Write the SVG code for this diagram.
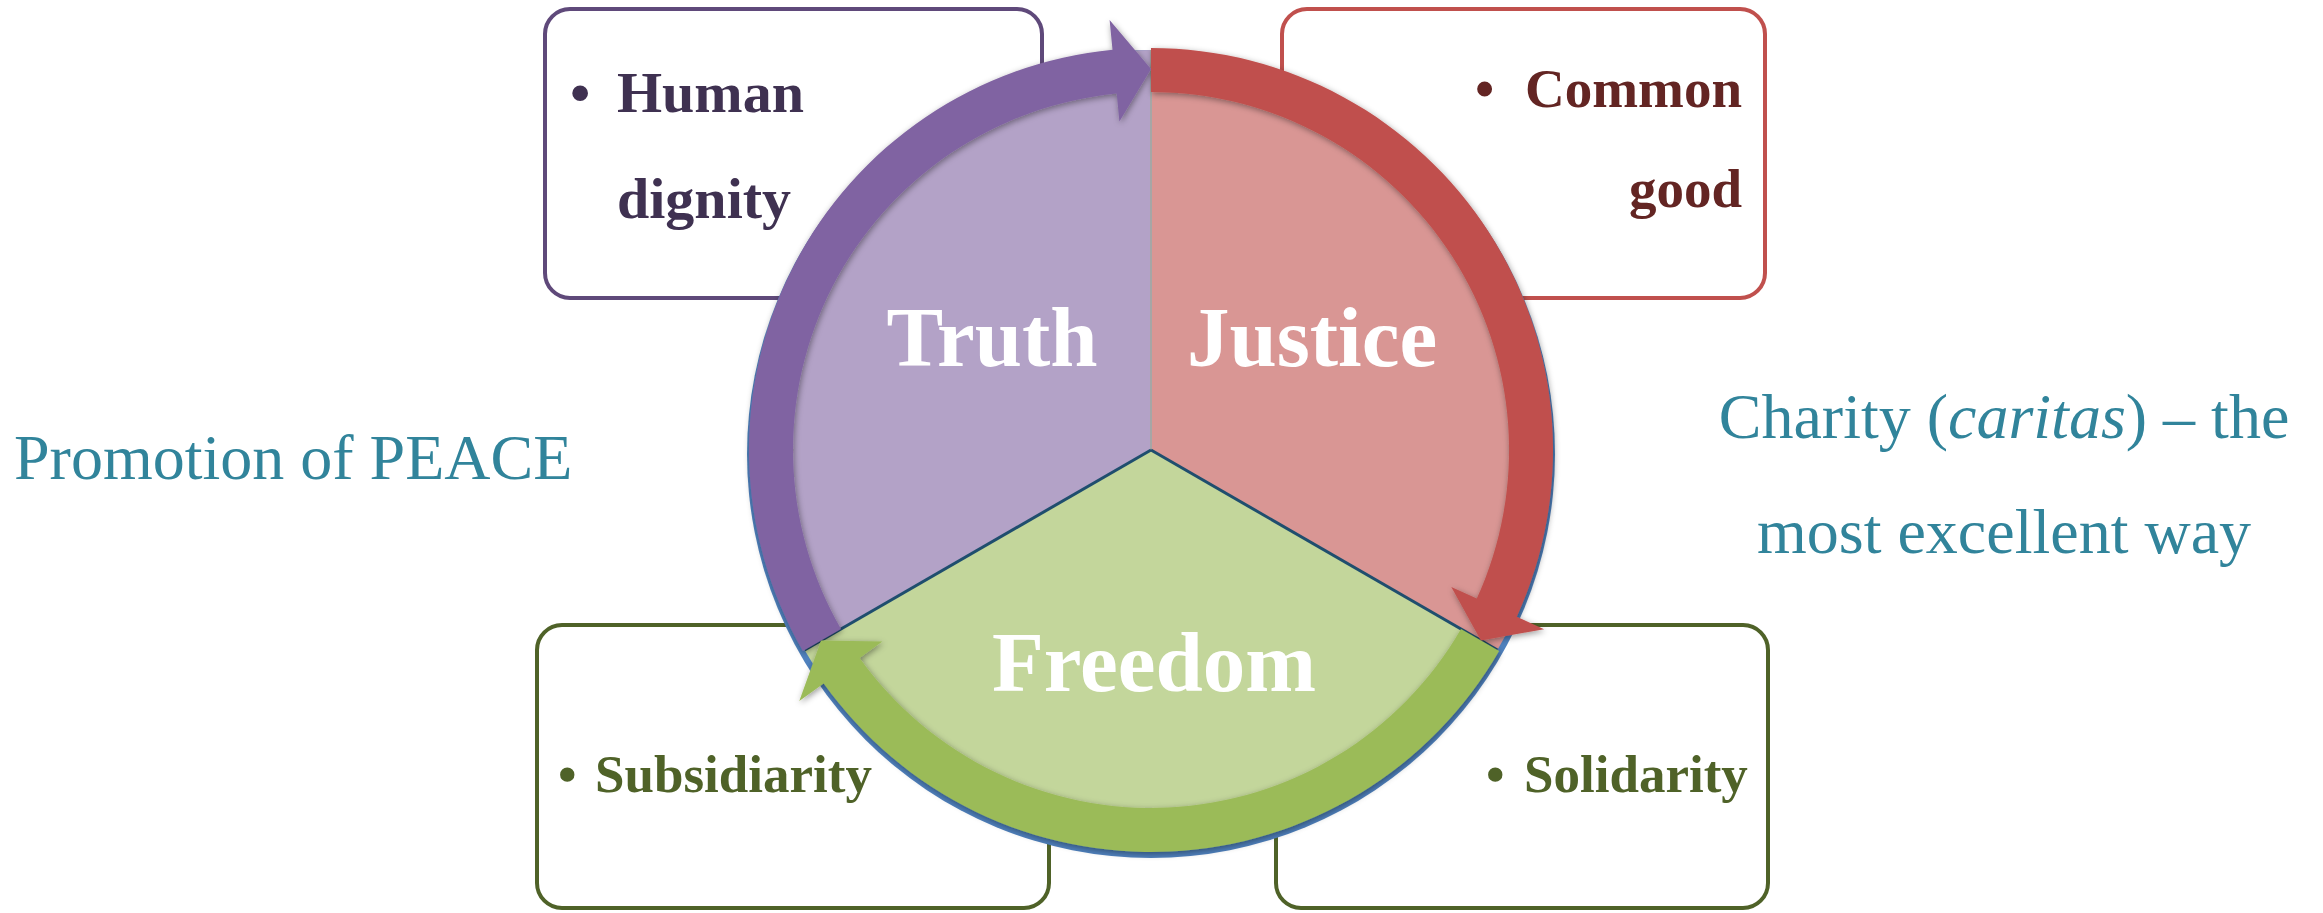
<svg xmlns="http://www.w3.org/2000/svg" width="2323" height="913" viewBox="0 0 2323 913">
<defs>
<filter id="sh" x="-10%" y="-10%" width="120%" height="120%">
<feDropShadow dx="1" dy="2" stdDeviation="3" flood-color="#000" flood-opacity="0.4"/>
</filter>
</defs>
<style>
.box{fill:#fff;stroke-width:4}
.bt{font-family:"Liberation Serif","Times New Roman",serif;font-weight:bold}
.big{font-family:"Liberation Serif","Times New Roman",serif;font-weight:bold;font-size:85px;fill:#fff;text-anchor:middle}
.side{font-family:"Liberation Serif","Times New Roman",serif;font-size:64px;fill:#31849B}
</style>
<rect width="2323" height="913" fill="#fff"/>

<g id="box-human-dignity">
<rect class="box" x="545" y="9" width="497" height="289" rx="25" stroke="#5F497A"/>
<text class="bt" x="570" y="112" font-size="58" fill="#3F3151">•</text>
<text class="bt" x="617" y="112" font-size="58" fill="#3F3151">Human</text>
<text class="bt" x="617" y="218" font-size="58" fill="#3F3151">dignity</text>
</g>
<g id="box-common-good">
<rect class="box" x="1282" y="9" width="483" height="289" rx="25" stroke="#C0504D"/>
<text class="bt" x="1475" y="107" font-size="55" fill="#632523">•</text>
<text class="bt" x="1742" y="107" font-size="55" fill="#632523" text-anchor="end">Common</text>
<text class="bt" x="1742" y="207" font-size="55" fill="#632523" text-anchor="end">good</text>
</g>
<g id="box-subsidiarity">
<rect class="box" x="537" y="625" width="512" height="283" rx="25" stroke="#4F6228"/>
<text class="bt" x="558" y="792" font-size="53" fill="#4F6228">•</text>
<text class="bt" x="595" y="792" font-size="53" fill="#4F6228">Subsidiarity</text>
</g>
<g id="box-solidarity">
<rect class="box" x="1276" y="625" width="492" height="283" rx="25" stroke="#4F6228"/>
<text class="bt" x="1486" y="792" font-size="53" fill="#4F6228">•</text>
<text class="bt" x="1524" y="792" font-size="53" fill="#4F6228">Solidarity</text>
</g>

<g id="pie">
<circle cx="1151" cy="454" r="404" fill="#4F81BD"/>
<path id="sector-justice" d="M1151,450 L1151,50 A400,400 0 0 1 1497.4,650 Z" fill="#D99694"/>
<path id="sector-freedom" d="M1151,450 L1497.4,650 A400,400 0 0 1 804.6,650 Z" fill="#C3D69B"/>
<path id="sector-truth" d="M1151,450 L804.6,650 A400,400 0 0 1 1151,50 Z" fill="#B3A2C7"/>
<line x1="1151" y1="450" x2="1151" y2="50" stroke="#A6A6A6" stroke-width="2"/>
<line x1="1151" y1="450" x2="1497.4" y2="650" stroke="#1F4E6E" stroke-width="3"/>
<line x1="1151" y1="450" x2="804.6" y2="650" stroke="#1F4E6E" stroke-width="3"/>
</g>

<g id="connectors" filter="url(#sh)">
<path id="arrow-red" fill="#C0504D" d="M1151,48 A402,402 0 0 1 1516.8,616.7 L1544.1,629.2 L1480.9,640.5 L1451.3,586.9 L1476.8,598.5 A358,358 0 0 0 1151,92 Z"/>
<path id="arrow-green" fill="#9BBB59" d="M1499.1,651 A402,402 0 0 1 823.7,683.4 L799.3,700.9 L821.1,640.5 L882.3,641.6 L859.6,657.9 A358,358 0 0 0 1461,629 Z"/>
<path id="arrow-purple" fill="#8064A2" d="M802.9,651 A402,402 0 0 1 1112.5,49.8 L1109.6,20 L1151,69 L1119.4,121.5 L1116.7,93.6 A358,358 0 0 0 841,629 Z"/>
</g>

<g id="labels">
<text class="big" x="992" y="366">Truth</text>
<text class="big" x="1312" y="366">Justice</text>
<text class="big" x="1154" y="691">Freedom</text>
</g>

<g id="side-left">
<text class="side" x="14" y="479">Promotion of PEACE</text>
</g>
<g id="side-right">
<text class="side" x="2004" y="438" text-anchor="middle">Charity (<tspan font-style="italic">caritas</tspan>) – the</text>
<text class="side" x="2004" y="553" text-anchor="middle">most excellent way</text>
</g>
</svg>
